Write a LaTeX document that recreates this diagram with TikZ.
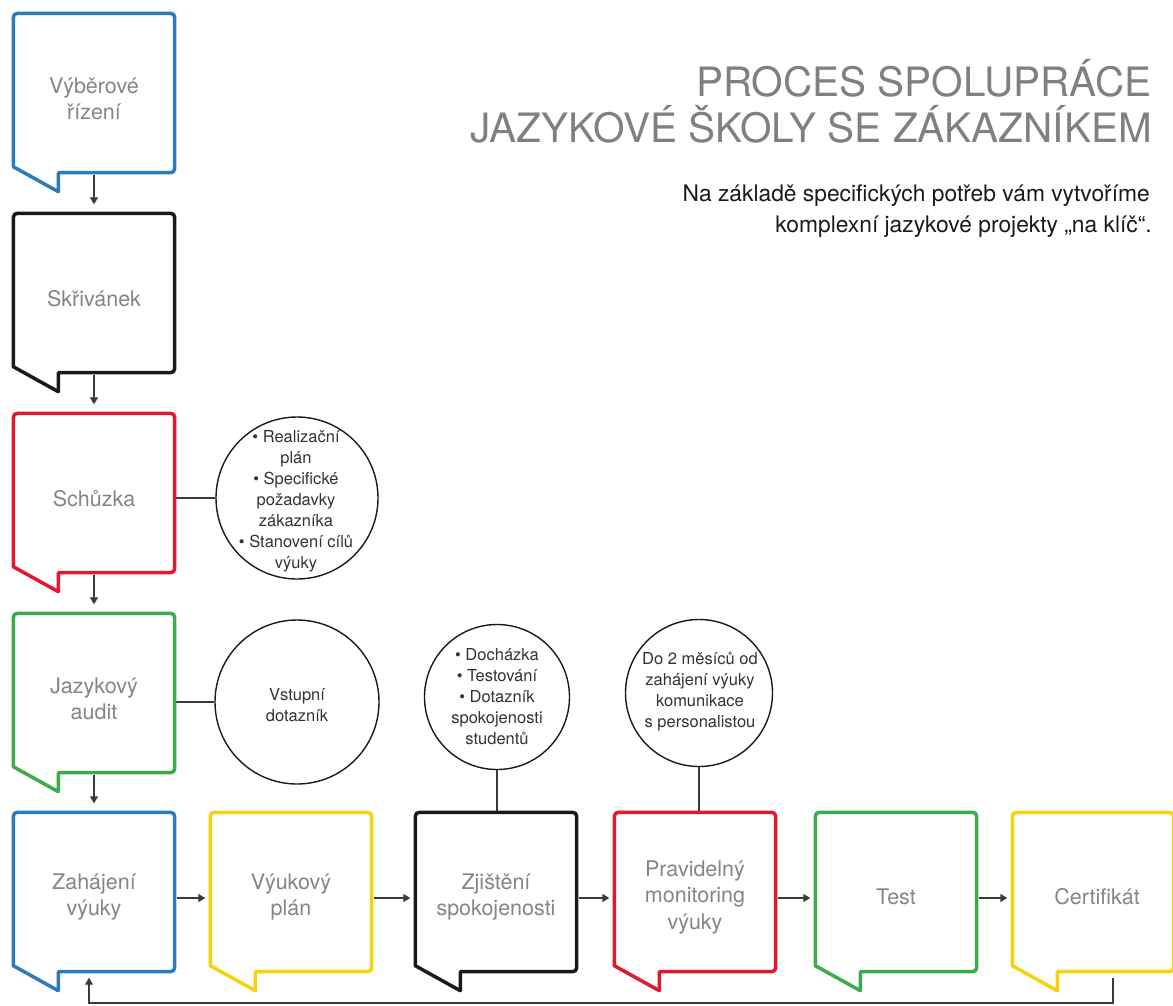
\documentclass[tikz,border=0pt]{standalone}
\usepackage{fontspec}
\setmainfont{TeX Gyre Heros}
\usetikzlibrary{arrows.meta,calc}
\definecolor{cblue}{HTML}{2A7BC0}
\definecolor{cblack}{HTML}{1A1A1A}
\definecolor{cred}{HTML}{E3192B}
\definecolor{cgreen}{HTML}{3DAA4B}
\definecolor{cyellow}{HTML}{F6D10E}
\definecolor{labgray}{HTML}{858585}
\definecolor{titlegray}{HTML}{808080}
\definecolor{linegray}{HTML}{3A3A3A}
\definecolor{circtext}{HTML}{333333}
\newcommand\bubblepath[2]{%
  \draw[bub,draw=#2]
    ($(#1.south west)+(45,0)$) -- ($(#1.south west)+(45,19)$)
    -- ($(#1.south west)+(0,-6)$)
    -- ($(#1.north west)+(0,9)$) .. controls (#1.north west) .. ($(#1.north west)+(9,0)$)
    -- ($(#1.north east)+(-9,0)$) .. controls (#1.north east) .. ($(#1.north east)+(0,9)$)
    -- ($(#1.south east)+(0,-9)$) .. controls (#1.south east) .. ($(#1.south east)+(-9,0)$)
    -- cycle;}
\begin{document}
\begin{tikzpicture}[x=1pt,y=-1pt,
  box/.style={rectangle, inner sep=0pt, minimum width=161pt, minimum height=159pt},
  boxtext/.style={align=center, inner sep=0pt, text=labgray, font=\fontsize{21.5}{26.5}\selectfont},
  bub/.style={line width=3.5pt, line join=round, line cap=round},
  circ/.style={circle, draw=cblack, line width=1.4pt, inner sep=0pt, minimum size=#1},
  ctext/.style={align=center, inner sep=0pt, text=circtext, font=\fontsize{16.5}{21}\selectfont},
  arr/.style={draw=linegray, line width=1.4pt, -{Triangle[length=7pt,width=8pt]}},
  conn/.style={draw=linegray, line width=1.4pt},
  title/.style={anchor=base east, inner sep=0pt, text=titlegray, font=\fontsize{40.5}{46}\selectfont},
  sub/.style={anchor=base east, inner sep=0pt, text=cblack, font=\fontsize{22.8}{31}\selectfont},
]
\fill[white] (0,0) rectangle (1173,1005);
\useasboundingbox (0,0) rectangle (1173,1005);

% title
\node[title] (t1) at (1152,96) {PROCES SPOLUPRÁCE};
\node[title] (t2) at (1152,142) {JAZYKOVÉ ŠKOLY SE ZÁKAZNÍKEM};
\node[sub] (s1) at (1150,201) {Na základě specifických potřeb vám vytvoříme};
\node[sub] (s2) at (1152,232) {komplexní jazykové projekty „na klíč“.};

% boxes
\node[box] (b1) at (94,93) {};
\node[box] (b2) at (94,293) {};
\node[box] (b3) at (94,493) {};
\node[box] (b4) at (94,693) {};
\node[box] (b5) at (94,892) {};
\node[box] (b6) at (291,892) {};
\node[box] (b7) at (496,892) {};
\node[box] (b8) at (695,892) {};
\node[box] (b9) at (896,892) {};
\node[box] (b10) at (1093,892) {};

\node[boxtext] (b1t) at ($(b1)+(0,6)$) {Výběrové\\řízení};
\node[boxtext] (b2t) at ($(b2)+(0,6)$) {Skřivánek};
\node[boxtext] (b3t) at ($(b3)+(0,6)$) {Schůzka};
\node[boxtext] (b4t) at ($(b4)+(0,6)$) {Jazykový\\audit};
\node[boxtext] (b5t) at ($(b5)+(0,5)$) {Zahájení\\výuky};
\node[boxtext] (b6t) at ($(b6)+(0,5)$) {Výukový\\plán};
\node[boxtext] (b7t) at ($(b7)+(0,5)$) {Zjištění\\spokojenosti};
\node[boxtext] (b8t) at ($(b8)+(0,5)$) {Pravidelný\\monitoring\\výuky};
\node[boxtext] (b9t) at ($(b9)+(0,5)$) {Test};
\node[boxtext] (b10t) at ($(b10)+(4,5)$) {Certifikát};

% circles
\node[circ=162pt] (c1) at (297,498) {};
\node[circ=164pt] (c2) at (297,702) {};
\node[circ=145pt] (c3) at (497,697) {};
\node[circ=147pt] (c4) at (699,693) {};
\node[ctext] (c1t) at (296,501) {• Realizační\\plán\\• Specifické\\požadavky\\zákazníka\\• Stanovení cílů\\výuky};
\node[ctext] (c2t) at (297,705) {Vstupní\\dotazník};
\node[ctext] (c3t) at (497,697) {• Docházka\\• Testování\\• Dotazník\\spokojenosti\\studentů};
\node[ctext] (c4t) at (700,692) {Do 2 měsíců od\\zahájení výuky\\komunikace\\s personalistou};

% connectors
\draw[arr, shorten <=2pt, shorten >=9pt] (b1.south) -- (b2.north);
\draw[arr, shorten <=2pt, shorten >=9pt] (b2.south) -- (b3.north);
\draw[arr, shorten <=2pt, shorten >=9pt] (b3.south) -- (b4.north);
\draw[arr, shorten <=2pt, shorten >=9pt] (b4.south) -- (b5.north);
\draw[arr, shorten <=2pt, shorten >=5pt] ([yshift=-6pt]b5.east) -- ([yshift=-6pt]b6.west);
\draw[arr, shorten <=2pt, shorten >=5pt] ([yshift=-6pt]b6.east) -- ([yshift=-6pt]b7.west);
\draw[arr, shorten <=2pt, shorten >=5pt] ([yshift=-6pt]b7.east) -- ([yshift=-6pt]b8.west);
\draw[arr, shorten <=2pt, shorten >=5pt] ([yshift=-6pt]b8.east) -- ([yshift=-6pt]b9.west);
\draw[arr, shorten <=2pt, shorten >=5pt] ([yshift=-6pt]b9.east) -- ([yshift=-6pt]b10.west);

\draw[conn] (c1.west) -- (c1.west -| b3.east);
\draw[conn] (c2.west) -- (c2.west -| b4.east);
\draw[conn] (c3.south) -- (c3.south |- b7.north);
\draw[conn] (c4.south) -- (c4.south |- b8.north);

\coordinate (fbR) at (1113,1003);
\coordinate (fbL) at (89,1003);
\draw[arr, line width=1.2pt, shorten <=6pt, shorten >=6pt] (b10.south -| fbR) -- (fbR) -- (fbL) -- (fbL |- b5.south);

% bubble outlines
\bubblepath{b1}{cblue}
\bubblepath{b2}{cblack}
\bubblepath{b3}{cred}
\bubblepath{b4}{cgreen}
\bubblepath{b5}{cblue}
\bubblepath{b6}{cyellow}
\bubblepath{b7}{cblack}
\bubblepath{b8}{cred}
\bubblepath{b9}{cgreen}
\bubblepath{b10}{cyellow}
\end{tikzpicture}
\end{document}
